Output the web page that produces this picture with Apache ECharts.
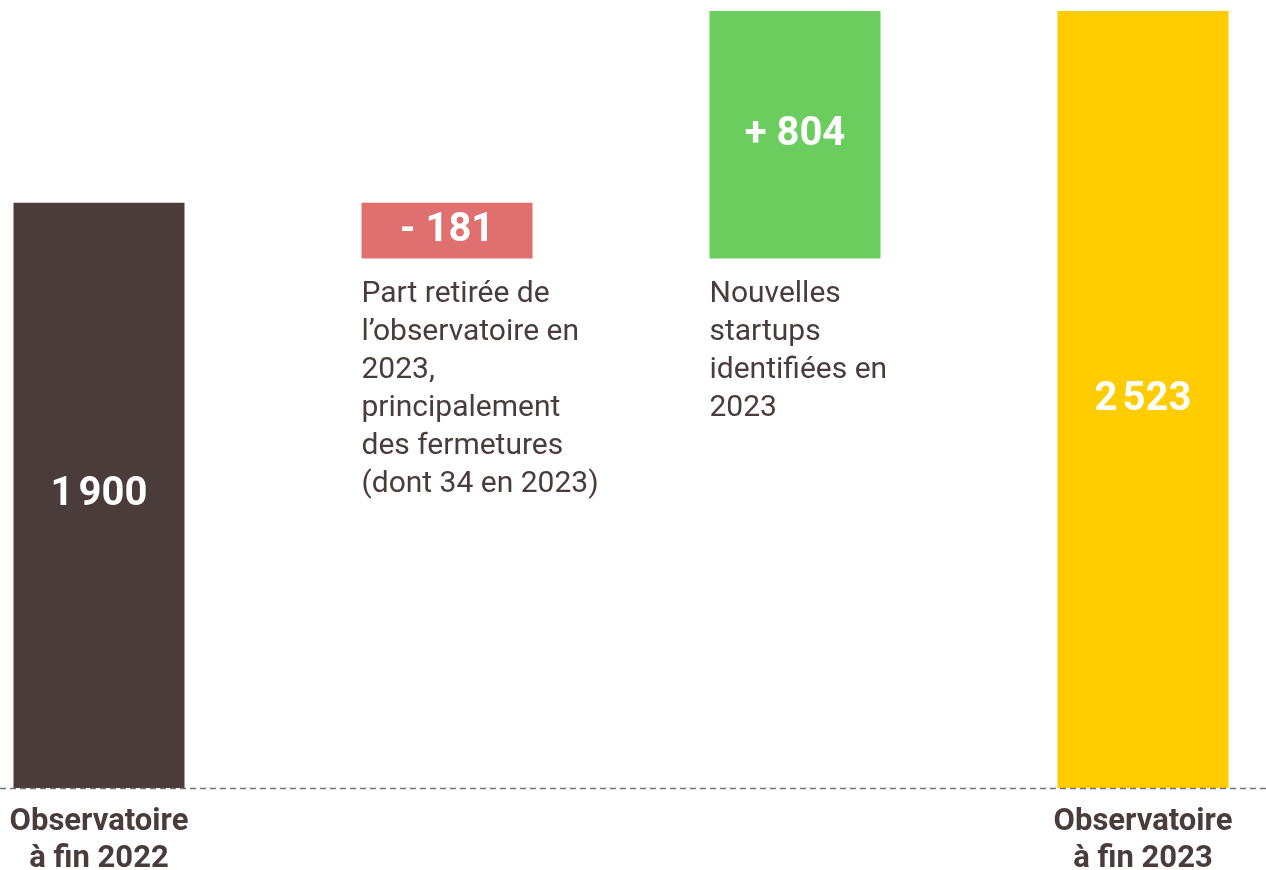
<!DOCTYPE html>
<html>
<head>
<meta charset="utf-8">
<script src="https://cdn.jsdelivr.net/npm/echarts@6/dist/echarts.min.js"></script>
<style>
html,body{margin:0;padding:0;background:#fff;}
#chart{width:1266px;height:870px;}
</style>
</head>
<body>
<div id="chart"></div>
<script>
const categories = ['Observatoire\nà fin 2022', '', '', 'Observatoire\nà fin 2023'];
const startValue = 1900;
const removedValue = 181;
const addedValue = 804;
const endValue = 2523;
const valueLabels = ['1\u202F900', '- 181', '+ 804', '2\u202F523'];
const descriptions = ['', 'Part retirée de\nl\u2019observatoire en\n2023,\nprincipalement\ndes fermetures\n(dont 34 en 2023)', 'Nouvelles\nstartups\nidentifiées en\n2023', ''];

const colors = ['#4a3c3a', '#e07070', '#6bcd5d', '#ffcc00'];
const textColor = '#4a3c3a';

const baseValues = [0, startValue - removedValue, startValue - removedValue, 0];
const barValues = [startValue, removedValue, addedValue, endValue];

const chart = echarts.init(document.getElementById('chart'));
chart.setOption({
  animation: false,
  grid: { left: 99, right: 123, top: 11, bottom: 82, outerBoundsMode: 'none', containLabel: false },
  xAxis: {
    type: 'category',
    data: categories,
    boundaryGap: false,
    axisLine: { show: false },
    axisTick: { show: false },
    splitLine: { show: false },
    axisLabel: {
      interval: 0,
      margin: 16,
      color: textColor,
      fontFamily: 'Roboto',
      fontWeight: 'bold',
      fontSize: 31,
      lineHeight: 37
    }
  },
  yAxis: {
    type: 'value',
    min: 0,
    max: endValue,
    show: false,
    splitLine: { show: false }
  },
  series: [
    {
      name: 'base',
      type: 'bar',
      stack: 'w',
      barWidth: 171,
      silent: true,
      itemStyle: { color: 'transparent' },
      data: baseValues.map((v, i) => ({
        value: v,
        label: {
          show: descriptions[i] !== '',
          position: 'insideTop',
          distance: 17,
          align: 'left',
          offset: [-85.5, 0],
          formatter: descriptions[i],
          color: textColor,
          fontFamily: 'Roboto',
          fontSize: 30,
          lineHeight: 38
        }
      }))
    },
    {
      name: 'value',
      type: 'bar',
      stack: 'w',
      barWidth: 171,
      data: barValues.map((v, i) => ({
        value: v,
        itemStyle: { color: colors[i] },
        label: {
          show: true,
          position: 'inside',
          formatter: valueLabels[i],
          color: '#ffffff',
          fontFamily: 'Roboto',
          fontWeight: 'bold',
          fontSize: 40
        }
      }))
    }
  ],
  graphic: [
    {
      type: 'line',
      z: 100,
      shape: { x1: 0, y1: 788.5, x2: 1266, y2: 788.5 },
      style: { stroke: '#7a7070', lineWidth: 1.5, lineDash: [6, 4] }
    }
  ]
});
</script>
</body>
</html>
